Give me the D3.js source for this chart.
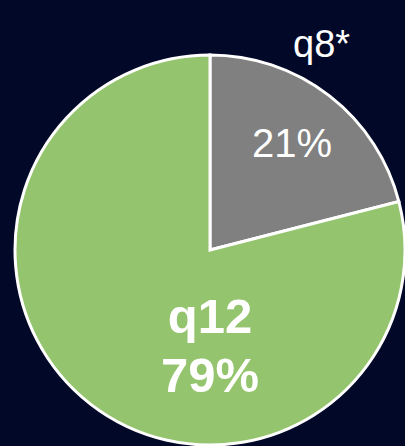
<!DOCTYPE html>
<html>
<head>
<meta charset="utf-8">
<script src="https://cdn.jsdelivr.net/npm/d3@7"></script>
<style>
  html, body { margin: 0; padding: 0; background: #010828; }
  svg { display: block; }
  text { font-family: "Liberation Sans", Arial, sans-serif; fill: #ffffff; }
</style>
</head>
<body>
<svg id="chart" width="405" height="446"></svg>
<script>
// Share of responses by question
const categories = ["q8*", "q12"];
const values = [21, 79];
const valueLabels = ["21%", "79%"];
const colors = ["#808080", "#94c46d"];

const svg = d3.select("#chart");
const cx = 210, cy = 250, radius = 195;

const pie = d3.pie().sort(null).value(d => d)(values);
const arc = d3.arc().innerRadius(0).outerRadius(radius);

const g = svg.append("g").attr("transform", `translate(${cx},${cy})`);

g.selectAll("path.slice")
  .data(pie)
  .join("path")
  .attr("class", "slice")
  .attr("d", arc)
  .attr("fill", (d, i) => colors[i])
  .attr("stroke", "#ffffff")
  .attr("stroke-width", 3)
  .attr("stroke-linejoin", "miter");

// Small slice: value inside, name outside the rim
g.append("text")
  .attr("x", 82).attr("y", -93)
  .attr("text-anchor", "middle")
  .attr("font-size", 40)
  .text(valueLabels[0]);

g.append("text")
  .attr("x", 83).attr("y", -193)
  .attr("font-size", 38)
  .text(categories[0]);

// Large slice: name and value stacked, bold
const big = g.append("text")
  .attr("text-anchor", "middle")
  .attr("font-size", 49)
  .attr("font-weight", "bold");
big.append("tspan").attr("x", 0).attr("y", 83).text(categories[1]);
big.append("tspan").attr("x", 0).attr("y", 142).text(valueLabels[1]);
</script>
</body>
</html>
